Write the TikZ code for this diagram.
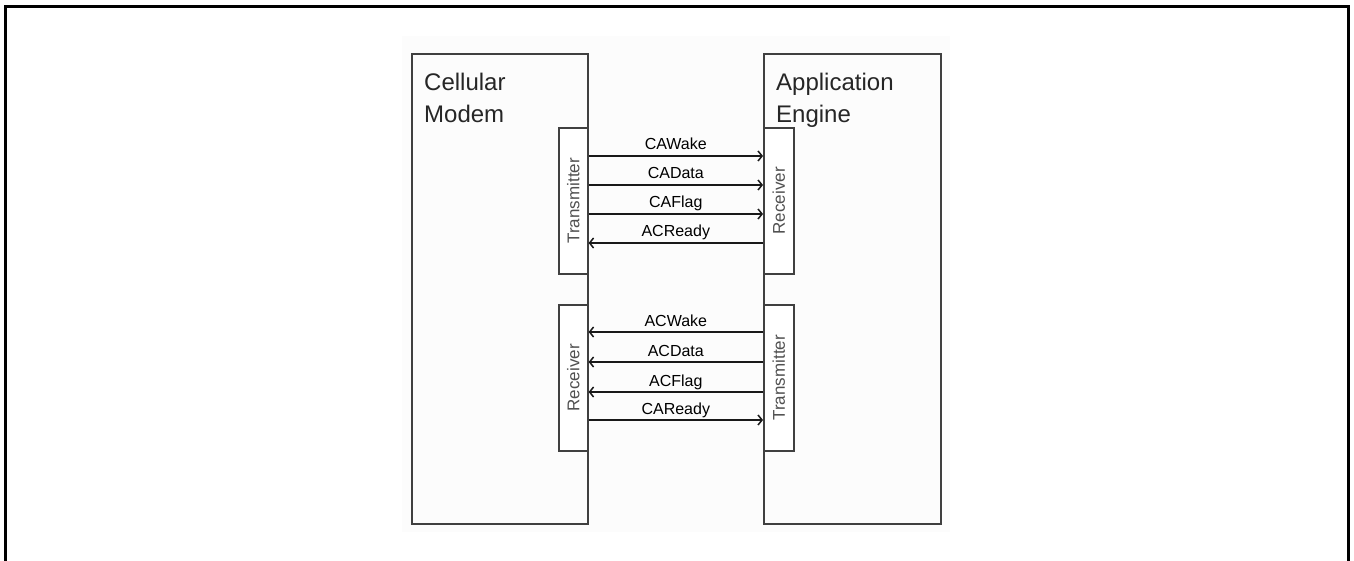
\documentclass[tikz,border=0pt]{standalone}
\usepackage{fontspec}
\setmainfont{Liberation Sans}
\usepackage{tikz}
\usetikzlibrary{arrows.meta,positioning}
\definecolor{boxgray}{HTML}{404040}
\definecolor{textgray}{HTML}{505050}
\definecolor{paper}{HTML}{FCFCFC}
\tikzset{
    frame/.style={draw=black, line width=3pt},
    bigbox/.style={
        rectangle,
        draw=boxgray,
        line width=1.6pt,
        minimum width=176pt,
        minimum height=470pt,
        inner sep=0pt
    },
    portbox/.style={
        rectangle,
        draw=boxgray,
        line width=1.6pt,
        fill=white,
        minimum width=29pt,
        minimum height=146pt,
        inner sep=0pt
    },
    porttext/.style={
        rotate=90,
        text=textgray,
        font={\fontsize{17pt}{20pt}\selectfont}
    },
    title/.style={
        anchor=north west,
        align=left,
        inner sep=0pt,
        text=black!85,
        font={\fontsize{24pt}{32pt}\selectfont}
    },
    sig/.style={draw=black!90, line width=1.5pt, -{Straight Barb[length=4pt,width=10pt]}},
    siglab/.style={midway, anchor=base, yshift=6pt, inner sep=0pt,
        font={\fontsize{16pt}{18pt}\selectfont}},
}

\begin{document}
\begin{tikzpicture}[x=1pt,y=-1pt]
\useasboundingbox (0,0) rectangle (1354,561);
\fill[paper] (402,36) rectangle (950,532);
\draw[frame] (5,563) -- (5,7) -- (1348,7) -- (1348,563);

% the two blocks
\node[bigbox, anchor=north west] (modem) at (411,53) {};
\node[bigbox, anchor=north west, minimum width=177pt] (engine) at (763,53) {};
\node[title] (modemname) at ([xshift=13pt,yshift=-20pt]modem.north west) {Cellular\\Modem};
\node[title] (enginename) at ([xshift=13pt,yshift=-20pt]engine.north west) {Application\\Engine};

% interface boxes
\node[portbox, anchor=north east] (txA) at ([yshift=-74pt]modem.north east) {};
\node[portbox, anchor=north west, minimum width=30pt] (rxA) at ([yshift=-74pt]engine.north west) {};
\node[portbox, anchor=north east] (rxB) at ([yshift=-251pt]modem.north east) {};
\node[portbox, anchor=north west, minimum width=30pt] (txB) at ([yshift=-251pt]engine.north west) {};
\node[porttext] (txAtext) at (txA) {Transmitter};
\node[porttext] (rxAtext) at (rxA) {Receiver};
\node[porttext] (rxBtext) at (rxB) {Receiver};
\node[porttext] (txBtext) at (txB) {Transmitter};

% modem -> engine
\foreach \off/\lab in {29/CAWake,58/CAData,87/CAFlag}
    \draw[sig] ([yshift=-\off pt]txA.north east) -- ([yshift=-\off pt]rxA.north west) node[siglab] {\lab};
\draw[sig] ([yshift=-116pt]rxA.north west) -- ([yshift=-116pt]txA.north east) node[siglab] {ACReady};

% engine -> modem
\foreach \off/\lab in {28/ACWake,58/ACData,88/ACFlag}
    \draw[sig] ([yshift=-\off pt]txB.north west) -- ([yshift=-\off pt]rxB.north east) node[siglab] {\lab};
\draw[sig] ([yshift=-116pt]rxB.north east) -- ([yshift=-116pt]txB.north west) node[siglab] {CAReady};
\end{tikzpicture}
\end{document}
